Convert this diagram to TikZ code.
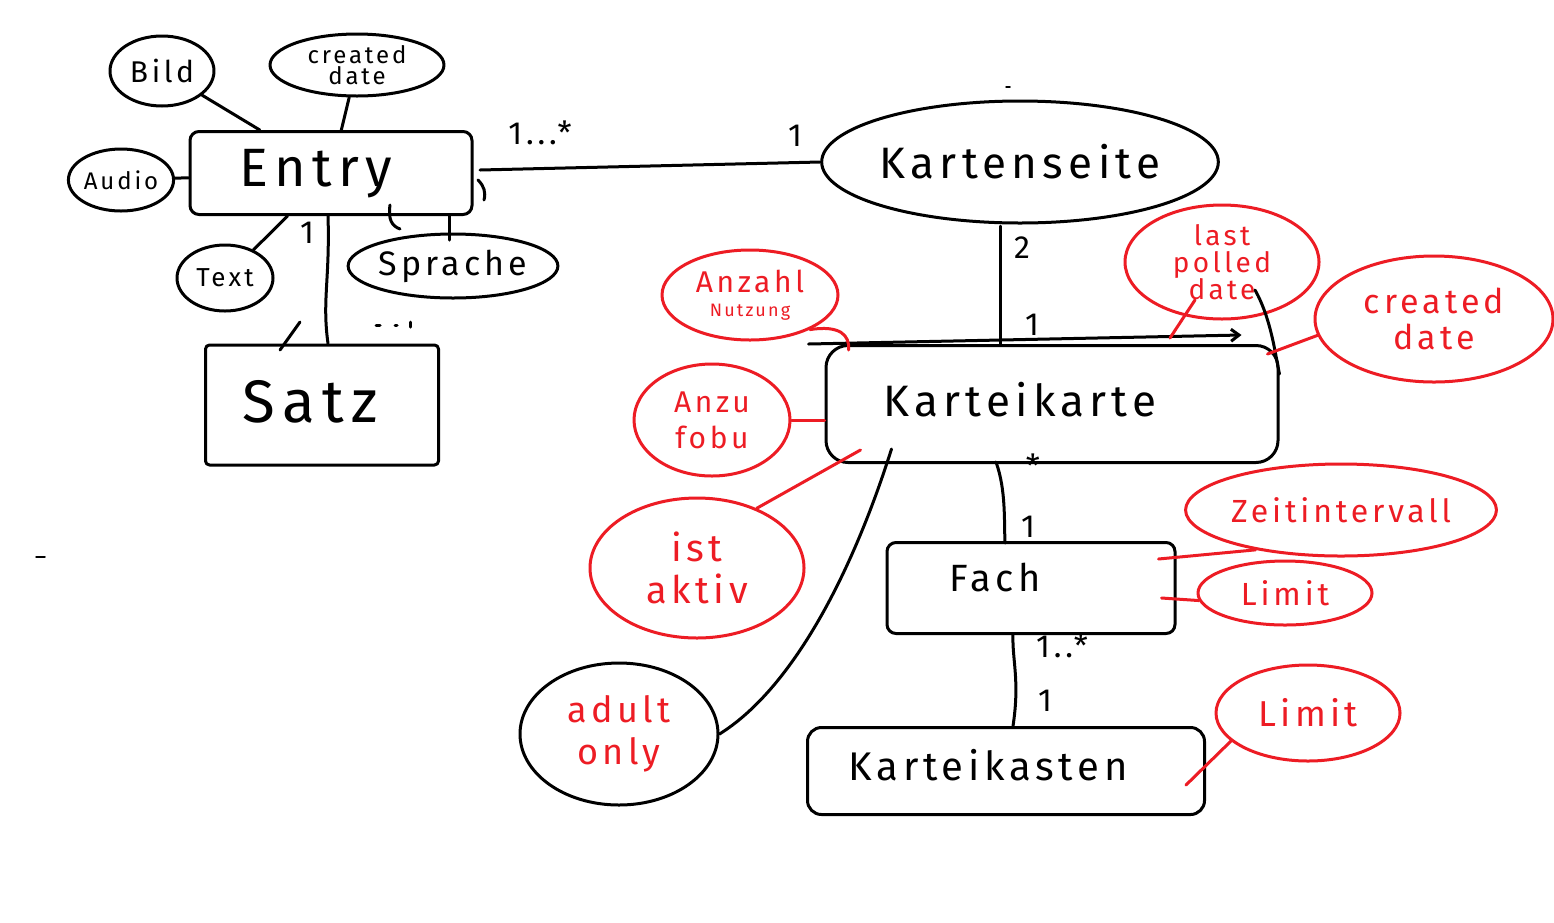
\documentclass[tikz,border=0pt]{standalone}
\usepackage{fontspec}
\setmainfont{Fira Sans}[LetterSpace=12]
\usetikzlibrary{shapes.geometric,arrows.meta}
\definecolor{pred}{HTML}{ED1C24}
\tikzset{
  ink/.style={line width=3pt, line cap=round, line join=round},
  ent/.style={ink, draw, rounded corners=9pt, inner sep=0pt, align=center},
  att/.style={ink, draw, ellipse, inner sep=0pt, align=center},
  ratt/.style={att, draw=pred, text=pred},
  rlink/.style={ink, draw=pred},
  card/.style={inner sep=0pt, font=\fontsize{32}{32}\selectfont},
  lbl/.style={inner sep=0pt, align=center},
}
\begin{document}
\begin{tikzpicture}[x=1pt,y=-1pt]
\fill[white] (0,0) rectangle (1554,922);
\useasboundingbox (0,0) rectangle (1554,922);

% ---- Entry cluster
\node[ent, minimum width=282pt, minimum height=83pt] (entry) at (331,173) {};
\node[lbl, font=\fontsize{54}{54}\selectfont] (entryt) at (316,174) {Entry};
\node[att, minimum width=104pt, minimum height=70pt, font=\fontsize{30}{30}\selectfont] (bild) at (162,71) {Bild};
\node[att, minimum width=174pt, minimum height=62pt, font=\fontsize{24}{21}\selectfont] (cdate) at (357,65) {created\\date};
\node[att, minimum width=92pt, minimum height=62pt, font=\fontsize{24}{24}\selectfont] (audio) at (121,180) {Audio};
\node[att, minimum width=96pt, minimum height=66pt, font=\fontsize{26}{26}\selectfont] (text) at (225,278) {Text};
\node[att, minimum width=182pt, minimum height=64pt, font=\fontsize{34}{34}\selectfont] (sprache) at (453,266) {Sprache};
\node[ent, minimum width=233pt, minimum height=120pt, rounded corners=4pt] (satz) at (322,405) {};
\node[lbl, font=\fontsize{60}{60}\selectfont] (satzt) at (310,402) {Satz};

\draw[ink] (bild) -- (entry);
\draw[ink] (cdate) -- (entry);
\draw[ink] (audio) -- (entry);
\draw[ink] (text) -- (entry);
\coordinate (spr1) at (449,240);
\draw[ink] (spr1) -- (spr1 |- entry.south);
\coordinate (e1) at (328,215);
\draw[ink] (e1) .. controls (330,280) and (322,300) .. (e1 |- satz.north);
\node[card] at (307,233) {1};
% small stray strokes
\draw[ink] (280,350) -- (300,322);
\draw[ink] (376,325) -- (380,325);
\draw[ink] (395,325) -- (397,325);
\draw[ink] (410,322) -- (410,327);
\draw[ink] (390,205) .. controls (388,220) and (392,226) .. (400,229);
\draw[ink] (478,180) .. controls (484,186) and (486,192) .. (484,200);

% ---- Kartenseite
\node[att, minimum width=396pt, minimum height=122pt, font=\fontsize{44}{44}\selectfont] (kseite) at (1020,162) {Kartenseite};
\coordinate (e2) at (480,170);
\draw[ink] (e2) -- (kseite.west);
\node[card] at (540,133) {1...*};
\node[card] at (795,136) {1};

% ---- Karteikarte
\node[ent, minimum width=452pt, minimum height=117pt, rounded corners=22pt] (kk) at (1052,404) {};
\node[lbl, font=\fontsize{44}{44}\selectfont] (kkt) at (1020,400) {Karteikarte};
\coordinate (k1) at (1000,226);
\draw[ink] (k1) -- (k1 |- kk.north);
\node[card] at (1022,248) {2};
\node[card] at (1032,325) {1};
\draw[ink, -{Straight Barb[length=8pt,width=12pt]}] ([xshift=-16pt]kk.north west) -- ([xshift=-38pt,yshift=9pt]kk.north east);

% red attributes of Karteikarte
\node[ratt, minimum width=176pt, minimum height=90pt, font=\fontsize{30}{24}\selectfont] (anz) at (750,295) {Anzahl\\{\fontsize{18}{18}\selectfont Nutzung}};
\node[ratt, minimum width=156pt, minimum height=112pt, font=\fontsize{30}{36}\selectfont] (anzu) at (712,420) {Anzu\\fobu};
\node[ratt, minimum width=214pt, minimum height=140pt, font=\fontsize{38}{42}\selectfont] (aktiv) at (697,568) {ist\\aktiv};
\node[att, text=pred, minimum width=198pt, minimum height=142pt, font=\fontsize{36}{42}\selectfont] (adult) at (619,734) {adult\\only};
\node[ratt, minimum width=194pt, minimum height=114pt, font=\fontsize{28}{27}\selectfont] (lpd) at (1222,262) {last\\polled\\date};
\node[ratt, minimum width=238pt, minimum height=126pt, font=\fontsize{34}{36}\selectfont] (kcd) at (1434,319) {created\\date};

\draw[rlink] (anz.-30) .. controls (840,325) and (850,335) .. ([xshift=24pt,yshift=-6pt]kk.north west);
\draw[rlink] (anzu.east) -- (anzu.east -| kk.west);
\draw[rlink] (aktiv.45) -- ([xshift=36pt,yshift=14pt]kk.south west);
\draw[ink] (adult.east) .. controls (790,690) and (850,580) .. ([xshift=67pt,yshift=15pt]kk.south west);
\coordinate (l1) at (1195,300);
\draw[rlink] (l1) -- (1170,338);
\coordinate (l2) at (1255,290);
\draw[ink] (l2) .. controls (1272,320) and (1276,360) .. ([yshift=-30pt]kk.north east);
\draw[rlink] (kcd.188) -- ([xshift=-12pt,yshift=-10pt]kk.north east);

% ---- Fach
\node[ent, minimum width=288pt, minimum height=91pt] (fach) at (1031,588) {};
\node[lbl, font=\fontsize{38}{38}\selectfont] (facht) at (995,578) {Fach};
\coordinate (k2) at (996,462);
\draw[ink] (k2) .. controls (1006,490) and (1004,520) .. (1005,543);
\node[card] at (1033,466) {*};
\node[card] at (1028,527) {1};
\node[ratt, minimum width=288pt, minimum height=92pt, font=\fontsize{32}{32}\selectfont] (zeit) at (1341,510) {Zeitintervall};
\node[ratt, minimum width=174pt, minimum height=64pt, font=\fontsize{32}{32}\selectfont] (lim1) at (1285,593) {Limit};
\draw[rlink] (zeit.205) -- ([xshift=-18pt,yshift=-18pt]fach.north east);
\draw[rlink] (lim1.185) -- ([xshift=-15pt,yshift=-57pt]fach.north east);

% ---- Karteikasten
\node[ent, minimum width=397pt, minimum height=87pt, rounded corners=14pt] (kasten) at (1006,771) {};
\node[lbl, font=\fontsize{40}{40}\selectfont] (kastent) at (988,765) {Karteikasten};
\coordinate (f1) at (1013,634);
\draw[ink] (f1) .. controls (1012,660) and (1020,680) .. (f1 |- kasten.north);
\node[card] at (1062,646) {1..*};
\node[card] at (1045,701) {1};
\node[ratt, minimum width=184pt, minimum height=96pt, font=\fontsize{36}{36}\selectfont] (lim2) at (1308,713) {Limit};
\draw[rlink] (lim2.200) -- ([xshift=-20pt,yshift=-14pt]kasten.east);

% stray marks
\draw[ink, line width=1.5pt] (36,557) -- (45,557);
\draw[ink, line width=1.5pt] (1006,87) -- (1010,87);
\end{tikzpicture}
\end{document}
